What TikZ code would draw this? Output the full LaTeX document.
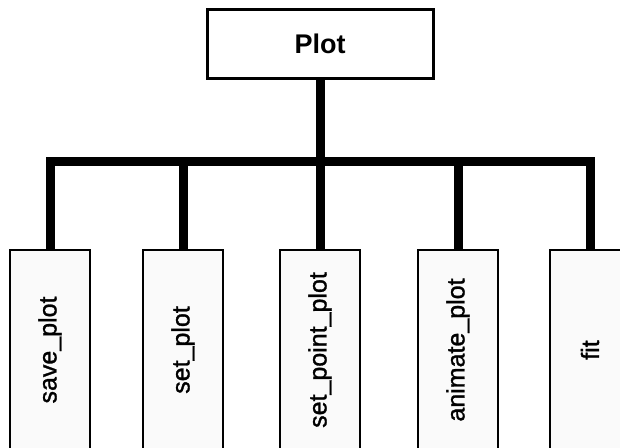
\documentclass[tikz,border=0pt]{standalone}
\usepackage{fontspec}
\usepackage{graphicx}
\setmainfont{Liberation Sans}
\newfontfamily\leaffont[FakeBold=1.2]{Liberation Sans}
\definecolor{leaffill}{HTML}{FAFAFA}
\begin{document}
\begin{tikzpicture}[x=1pt,y=-1pt,
  rootbox/.style={draw=black, line width=3pt, fill=white,
    minimum width=226pt, minimum height=69pt, inner sep=0pt,
    font=\fontsize{27}{30}\selectfont\bfseries},
  leafbox/.style={draw=black, line width=2.5pt, fill=leaffill,
    minimum width=80pt, minimum height=200pt, inner sep=0pt,
    font=\leaffont\fontsize{25}{30}\selectfont},
  link/.style={line width=9pt, line join=miter}]
\useasboundingbox (0,0) rectangle (620,447);
\fill[white] (0,0) rectangle (620,447);

% root
\node[rootbox] (plot) at (320,43.5) {Plot};

% leaves
\node[leafbox] (save)     at (50,350)  {\rotatebox{90}{save\_plot}};
\node[leafbox] (set)      at (183,350) {\rotatebox{90}{set\_plot}};
\node[leafbox] (setpoint) at (320,350) {\rotatebox{90}{set\_point\_plot}};
\node[leafbox] (animate)  at (458,350) {\rotatebox{90}{animate\_plot}};
\node[leafbox] (fit)      at (590,350) {\rotatebox{90}{fit}};

% branching bus
\coordinate (bus) at (320,161);
\draw[link] (plot.south) -- (bus);
\draw[link] (bus) -| (save.north);
\draw[link] (bus) -| (set.north);
\draw[link] (bus) -- (setpoint.north);
\draw[link] (bus) -| (animate.north);
\draw[link] (bus) -| (fit.north);
\end{tikzpicture}
\end{document}
